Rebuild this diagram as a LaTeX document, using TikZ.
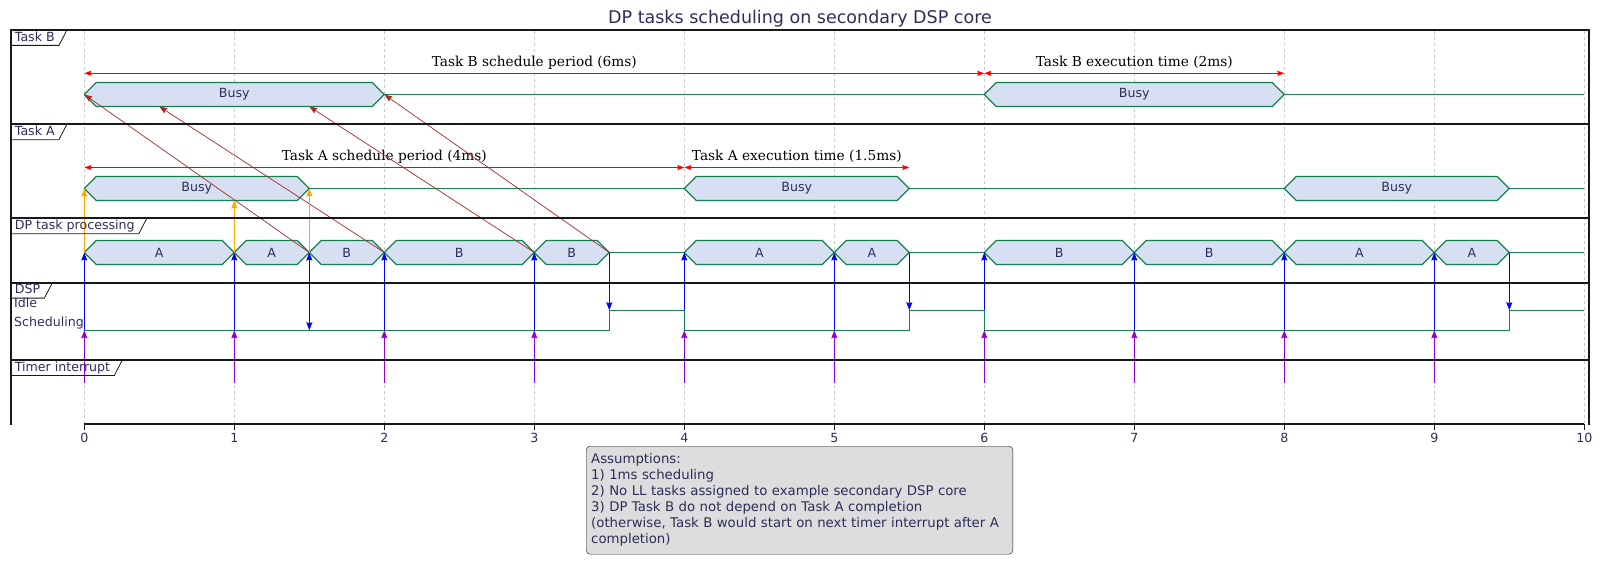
\documentclass[tikz,border=0pt]{standalone}
\usepackage{fontspec}
\setmainfont{DejaVu Sans}
\newfontfamily\lblserif{DejaVu Serif}
\usetikzlibrary{arrows.meta}
\definecolor{sigline}{RGB}{24,128,80}
\definecolor{busyfill}{RGB}{215,224,242}
\definecolor{ink}{RGB}{45,45,90}
\definecolor{frameline}{RGB}{24,24,24}
\definecolor{gridgray}{RGB}{200,200,200}
\definecolor{notefill}{RGB}{221,221,221}
\definecolor{tbrown}{RGB}{165,42,42}
\definecolor{torange}{RGB}{255,165,0}
\definecolor{tviolet}{RGB}{148,0,211}

\begin{document}
\begin{tikzpicture}[x=1pt, y=-1pt, font=\fontsize{12.6}{14}\selectfont, text=ink,
  frame/.style={draw=frameline, line width=1.6pt},
  tab/.style={anchor=north west, inner xsep=4pt, inner ysep=0pt, minimum height=15pt, text height=9.5pt, text depth=2.5pt},
  tabline/.style={draw=frameline, line width=0.8pt},
  gridline/.style={draw=gridgray, line width=0.6pt, dash pattern=on 3pt off 3pt},
  bar/.style={draw=sigline, fill=busyfill, line width=1.2pt, line join=round},
  sig/.style={draw=sigline, line width=1.2pt},
  barlbl/.style={inner sep=0pt},
  span/.style={draw=red, line width=0.8pt, >={Stealth[length=7pt, width=5pt, inset=1pt]}},
  lbl/.style={font=\lblserif\fontsize{13.7}{16}\selectfont, text=black, anchor=base, yshift=7pt, inner sep=0pt},
  dep/.style={draw=tbrown, line width=0.7pt},
  ctl/.style={draw=blue, line width=1pt},
  irq/.style={draw=tviolet, line width=1pt},
  req/.style={draw=torange, line width=1pt},
  state/.style={anchor=west, inner sep=0pt},
  tick/.style={inner sep=0pt},
  note/.style={draw=frameline, fill=notefill, rounded corners=4pt, anchor=north west, align=left,
    text width=416.7pt, inner xsep=5pt, inner ysep=7pt, minimum height=108pt, font=\fontsize{13.3}{16}\selectfont},
  title/.style={font=\fontsize{17.5}{20}\selectfont},
  >={Stealth[length=8pt, width=6pt, inset=1pt]}]
\useasboundingbox (0,0) rectangle (1603,564);

\node[title] (ttl) at (800,19) {DP tasks scheduling on secondary DSP core};

% time axis: one unit = 1 ms
\begin{scope}[shift={(84.3,0)}, x=150pt]
  \foreach \i in {0,...,20} {
    \coordinate (arB-\i) at (\i/2,73.3);
    \coordinate (bm-\i) at (\i/2,94.5);
    \coordinate (bb-\i) at (\i/2,106.5);
    \coordinate (arA-\i) at (\i/2,167.5);
    \coordinate (am-\i) at (\i/2,188.5);
    \coordinate (ab-\i) at (\i/2,200.5);
    \coordinate (dp-\i) at (\i/2,252.5);
    \coordinate (dspI-\i) at (\i/2,310.3);
    \coordinate (dspS-\i) at (\i/2,330.3);
    \coordinate (tmr-\i) at (\i/2,383);
  }
  \foreach \t in {0,...,10}
    \draw[gridline] (\t,31) -- (\t,423);

  % busy bars
  \foreach \ts/\te/\y/\txt [count=\k] in {0/2/94.5/Busy, 6/8/94.5/Busy,
      0/1.5/188.5/Busy, 4/5.5/188.5/Busy, 8/9.5/188.5/Busy,
      0/1/252.5/A, 1/1.5/252.5/A, 1.5/2/252.5/B, 2/3/252.5/B, 3/3.5/252.5/B,
      4/5/252.5/A, 5/5.5/252.5/A, 6/7/252.5/B, 7/8/252.5/B, 8/9/252.5/A, 9/9.5/252.5/A} {
    \draw[bar] (\ts,\y) -- (\ts+0.08,\y-12) -- (\te-0.08,\y-12) -- (\te,\y)
      -- (\te-0.08,\y+12) -- (\ts+0.08,\y+12) -- cycle;
    \node[barlbl] (bar-\k) at ({(\ts+\te)/2},\y) {\txt};
  }
  \draw[sig] (bm-4) -- (bm-12) (bm-16) -- (bm-20);
  \draw[sig] (am-3) -- (am-8) (am-11) -- (am-16) (am-19) -- (am-20);
  \draw[sig] (dp-7) -- (dp-8) (dp-11) -- (dp-12) (dp-19) -- (dp-20);
  \draw[sig] (dspS-0) -- (dspS-7) -- (dspI-7) -- (dspI-8) -- (dspS-8) -- (dspS-11)
    -- (dspI-11) -- (dspI-12) -- (dspS-12) -- (dspS-19) -- (dspI-19) -- (dspI-20);

  % periods
  \draw[span, <->] (arB-0) -- node[lbl] (perB) {Task B schedule period (6ms)} (arB-12);
  \draw[span, <->] (arB-12) -- node[lbl] (exeB) {Task B execution time (2ms)} (arB-16);
  \draw[span, <->] (arA-0) -- node[lbl] (perA) {Task A schedule period (4ms)} (arA-8);
  \draw[span, <->] (arA-8) -- node[lbl] (exeA) {Task A execution time (1.5ms)} (arA-11);

  % dependencies
  \draw[dep, ->] (dp-3) -- (bm-0);
  \draw[dep, ->] (dp-4) -- (bb-1);
  \draw[dep, ->] (dp-6) -- (bb-3);
  \draw[dep, ->] (dp-7) -- (bm-4);
  \draw[req, ->] (dp-0) -- (am-0);
  \draw[req, ->] (dp-2) -- (ab-2);
  \draw[req, ->] (dp-3) -- (am-3);

  % scheduler
  \foreach \i in {0,2,4,6,10,14,16,18}
    \draw[ctl, ->] (dspS-\i) -- (dp-\i);
  \foreach \i in {8,12}
    \draw[ctl, ->] (dspI-\i) -- (dp-\i);
  \draw[ctl, <->] (dp-3) -- (dspS-3);
  \foreach \i in {7,11,19}
    \draw[ctl, ->] (dp-\i) -- (dspI-\i);
  \foreach \i in {0,2,...,18}
    \draw[irq, ->] (tmr-\i) -- (dspS-\i);

  % axis
  \draw[frame] (0,424) -- (10,424);
  \foreach \t in {0,...,10} {
    \draw[frame] (\t,424) -- (\t,430);
    \node[tick] (tk-\t) at (\t,437.5) {\t};
  }
\end{scope}

% lanes
\draw[frame] (10.7,425) -- (10.7,30) -- (1589,30) -- (1589,425);
\foreach \y in {124.3,218.3,282.7,360}
  \draw[frame] (10.7,\y) -- (1589,\y);
\foreach \y/\txt [count=\k] in {30/Task B, 124.3/Task A, 218.3/DP task processing, 282.7/DSP, 360/Timer interrupt} {
  \node[tab] (tab-\k) at (10.7,\y) {\txt};
  \draw[tabline] (tab-\k.south west) -- (tab-\k.south east) -- ([xshift=8pt]tab-\k.north east);
}
\node[state] (lblIdle) at (14,303) {Idle};
\node[state] (lblSched) at (14,323) {Scheduling};

\node[note] (assume) at (586,446) {Assumptions:\\1) 1ms scheduling\\2) No LL tasks assigned to example secondary DSP core\\3) DP Task B do not depend on Task A completion\\(otherwise, Task B would start on next timer interrupt after A\\completion)};
\end{tikzpicture}
\end{document}
